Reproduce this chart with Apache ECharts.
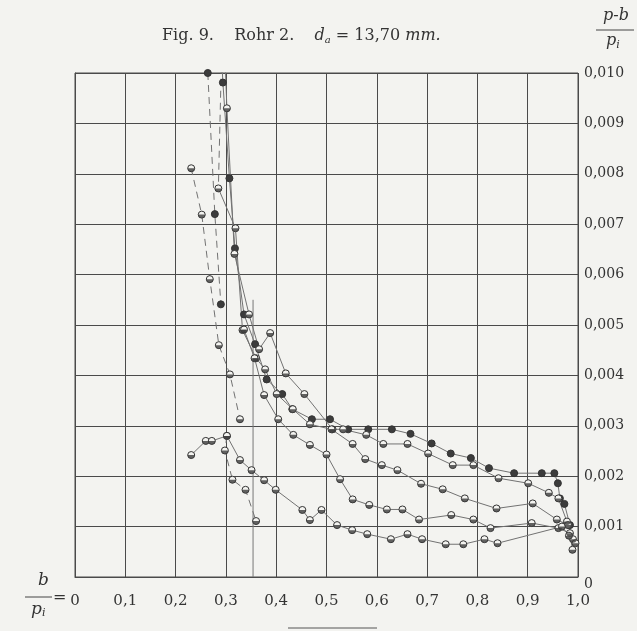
<!DOCTYPE html>
<html><head><meta charset="utf-8">
<script src="https://cdn.jsdelivr.net/npm/echarts/dist/echarts.min.js"></script>
<style>html,body{margin:0;padding:0;background:#f3f3f0;}#c{width:637px;height:631px;}</style>
</head><body><div id="c"></div>
<script>
// ---- data (x = b/p_i, y = (p-b)/p_i) ----
const xTickValues = [0,0.1,0.2,0.3,0.4,0.5,0.6,0.7,0.8,0.9,1.0];
const yTickValues = [0,0.001,0.002,0.003,0.004,0.005,0.006,0.007,0.008,0.009,0.010];

// solid curve, dark points
const aX = [0.290,0.294,0.307,0.318,0.336,0.358,0.381,0.412,0.432,0.471,0.507,0.543,0.583,0.630,0.667,0.709,0.747,0.787,0.823,0.873,0.928,0.953,0.960,0.964,0.973,0.984];
const aY = [0.0106,0.00981,0.00791,0.00652,0.00521,0.00462,0.00392,0.00363,0.00333,0.00313,0.00313,0.00293,0.00293,0.00293,0.00284,0.00265,0.00245,0.00236,0.00216,0.00206,0.00206,0.00206,0.00186,0.00156,0.00145,0.00103];
// solid curve, half points
const bX = [0.297,0.302,0.317,0.346,0.366,0.388,0.419,0.456,0.512,0.533,0.579,0.613,0.661,0.702,0.751,0.792,0.842,0.901,0.942,0.961,0.978,0.990];
const bY = [0.0106,0.00930,0.00641,0.00521,0.00452,0.00484,0.00404,0.00363,0.00293,0.00293,0.00282,0.00264,0.00264,0.00245,0.00222,0.00222,0.00196,0.00186,0.00167,0.00156,0.00110,0.00075];
// solid curve, half points
const cX = [0.285,0.319,0.333,0.360,0.378,0.401,0.433,0.467,0.510,0.552,0.577,0.610,0.641,0.688,0.731,0.775,0.838,0.910,0.958,0.980,0.995];
const cY = [0.00771,0.00692,0.00490,0.00434,0.00412,0.00363,0.00333,0.00303,0.00293,0.00264,0.00234,0.00222,0.00212,0.00185,0.00174,0.00156,0.00136,0.00146,0.00114,0.00103,0.00067];
// solid curve, half points
const dX = [0.336,0.357,0.376,0.404,0.434,0.467,0.500,0.527,0.552,0.585,0.620,0.651,0.684,0.748,0.792,0.826,0.908,0.961,0.984,0.989];
const dY = [0.00491,0.00434,0.00361,0.00313,0.00282,0.00262,0.00243,0.00194,0.00154,0.00143,0.00134,0.00134,0.00114,0.00123,0.00114,0.00097,0.00107,0.00097,0.00087,0.00054];
// lowest solid curve, half points
const eX = [0.231,0.260,0.272,0.302,0.328,0.351,0.376,0.399,0.452,0.467,0.490,0.521,0.551,0.581,0.628,0.661,0.690,0.737,0.772,0.814,0.840,0.968,0.982];
const eY = [0.00242,0.00270,0.00270,0.00280,0.00232,0.00212,0.00192,0.00173,0.00133,0.00113,0.00133,0.00103,0.00093,0.00085,0.00075,0.00085,0.00075,0.00065,0.00065,0.00075,0.00067,0.00100,0.00082];
// dashed curve, half points (low b/p_i)
const fX = [0.302,0.298,0.313,0.339,0.360];
const fY = [0.00280,0.00251,0.00193,0.00173,0.00111];
// dashed curve, half points
const gX = [0.231,0.252,0.268,0.286,0.308,0.328];
const gY = [0.00811,0.00719,0.00591,0.00460,0.00402,0.00313];
// dashed curve, dark points
const hX = [0.264,0.278,0.290];
const hY = [0.0100,0.00720,0.00541];
// dashed line entering from above
const kX = [0.292,0.285];
const kY = [0.0106,0.00771];
// vertical rule
const vX = [0.354,0.354];
const vY = [0,0.0055];

// ---- build ----
const pair = (xs, ys) => xs.map((x, i) => [x, ys[i]]);
const HALF = 'path://M0,10 A10,10 0 0 0 20,10 Z M10,0 L10.05,0 L10,0.05 Z';
const LINE = '#727272', INK = '#333333', PAPER = '#f3f3f0';

function curve(xs, ys, kind, dashed) {
  const data = pair(xs, ys);
  const out = [{
    type: 'line', data, clip: true, z: 3,
    symbol: 'circle', symbolSize: 7, showSymbol: true,
    lineStyle: { color: LINE, width: 1, type: dashed ? [7, 5] : 'solid' },
    itemStyle: { color: kind === 'dark' ? '#3c3c3c' : PAPER, borderColor: INK, borderWidth: 1 },
    animation: false
  }];
  if (kind === 'half') {
    out.push({
      type: 'scatter', data, clip: true, z: 4,
      symbol: HALF, symbolSize: 7, symbolKeepAspect: true,
      itemStyle: { color: '#3c3c3c' }, animation: false
    });
  }
  return out;
}

const series = [].concat(
  curve(aX, aY, 'dark', false),
  curve(bX, bY, 'half', false),
  curve(cX, cY, 'half', false),
  curve(dX, dY, 'half', false),
  curve(eX, eY, 'half', false),
  curve(fX, fY, 'half', true),
  curve(gX, gY, 'half', true),
  curve(hX, hY, 'dark', true),
  [{ type: 'line', data: pair(kX, kY), symbol: 'none', clip: true, lineStyle: { color: LINE, width: 1, type: [7, 5] }, animation: false }],
  [{ type: 'line', data: pair(vX, vY), symbol: 'none', clip: true, lineStyle: { color: '#777', width: 1 }, animation: false }]
);

const serif = '"DejaVu Serif", "Liberation Serif", serif';
const chart = echarts.init(document.getElementById('c'), null, { renderer: 'canvas' });
chart.setOption({
  backgroundColor: PAPER,
  animation: false,
  grid: { left: 75, right: 59, top: 73, bottom: 54, show: true, borderColor: '#4a4a4a', borderWidth: 1, backgroundColor: 'transparent' },
  title: {
    text: '{n|Fig. 9.    Rohr 2.    }{i|d}{s|a}{n| = 13,70 }{i|mm.}',
    left: 157, top: 22,
    textStyle: { fontWeight: 'normal', rich: {
      n: { fontFamily: serif, fontSize: 16, fontWeight: 'normal', color: '#333' },
      i: { fontFamily: serif, fontSize: 16, fontWeight: 'normal', fontStyle: 'italic', color: '#333' },
      s: { fontFamily: serif, fontSize: 10, fontWeight: 'normal', fontStyle: 'italic', color: '#333', verticalAlign: 'bottom', padding: [8, 0, 0, 0] }
    } }
  },
  xAxis: {
    type: 'value', min: 0, max: 1, interval: 0.1,
    axisLine: { show: true, lineStyle: { color: '#4a4a4a' } },
    axisTick: { show: false },
    splitLine: { show: true, lineStyle: { color: '#4a4a4a', width: 1 } },
    axisLabel: {
      margin: 17, fontFamily: serif, fontSize: 15, color: '#333',
      formatter: v => {
        const i = xTickValues.findIndex(t => Math.abs(t - v) < 1e-9);
        return i === 0 ? '0' : xTickValues[i].toFixed(1).replace('.', ',');
      }
    }
  },
  yAxis: {
    type: 'value', position: 'right', min: 0, max: 0.010, interval: 0.001,
    axisLine: { show: true, lineStyle: { color: '#4a4a4a' } },
    axisTick: { show: false },
    splitLine: { show: true, lineStyle: { color: '#4a4a4a', width: 1 } },
    axisLabel: {
      margin: 6, fontFamily: serif, fontSize: 14, color: '#333',
      formatter: v => {
        const i = yTickValues.findIndex(t => Math.abs(t - v) < 1e-9);
        if (i === 0) return '\n0';
        return '0,' + String(Math.round(yTickValues[i] * 1000)).padStart(3, '0');
      }
    }
  },
  graphic: [
    { type: 'text', left: 603, top: 8, style: { text: 'p-b', font: 'italic 16px ' + serif, fill: '#333' } },
    { type: 'line', shape: { x1: 596, y1: 30, x2: 634, y2: 30 }, style: { stroke: '#444', lineWidth: 1 } },
    { type: 'text', left: 606, top: 33, style: { rich: { p: { font: 'italic 16px ' + serif, fill: '#333' }, s: { font: 'italic 11px ' + serif, fill: '#333', padding: [8,0,0,0] } }, text: '{p|p}{s|i}' } },
    { type: 'text', left: 38, top: 572, style: { text: 'b', font: 'italic 17px ' + serif, fill: '#333' } },
    { type: 'line', shape: { x1: 25, y1: 597, x2: 52, y2: 597 }, style: { stroke: '#444', lineWidth: 1 } },
    { type: 'text', left: 31, top: 601, style: { rich: { p: { font: 'italic 17px ' + serif, fill: '#333' }, s: { font: 'italic 11px ' + serif, fill: '#333', padding: [8,0,0,0] } }, text: '{p|p}{s|i}' } },
    { type: 'text', left: 53, top: 590, style: { text: '=', font: '16px ' + serif, fill: '#333' } },
    { type: 'line', shape: { x1: 288, y1: 628, x2: 377, y2: 628 }, style: { stroke: '#555', lineWidth: 1 } }
  ],
  series
});
</script>
</body></html>
